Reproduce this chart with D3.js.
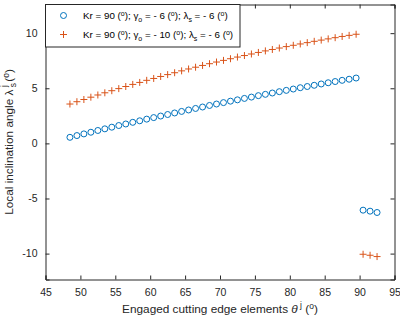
<!DOCTYPE html>
<html><head><meta charset="utf-8">
<script src="https://cdn.jsdelivr.net/npm/d3@7/dist/d3.min.js"></script>
<style>body{margin:0;background:#fff}svg{display:block;font-family:"Liberation Sans",Arial,sans-serif}</style>
</head><body>
<svg id="c" width="400" height="320"></svg>
<script>
const theta = [48.5,49.5,50.5,51.5,52.5,53.5,54.5,55.5,56.5,57.5,58.5,59.5,60.5,61.5,62.5,63.5,64.5,65.5,66.5,67.5,68.5,69.5,70.5,71.5,72.5,73.5,74.5,75.5,76.5,77.5,78.5,79.5,80.5,81.5,82.5,83.5,84.5,85.5,86.5,87.5,88.5,89.5,90.5,91.5,92.5];
const seriesA = [0.55,0.71,0.86,1.01,1.17,1.32,1.47,1.62,1.76,1.91,2.05,2.20,2.34,2.48,2.62,2.76,2.90,3.03,3.17,3.30,3.44,3.57,3.70,3.83,3.95,4.08,4.20,4.33,4.45,4.57,4.69,4.81,4.93,5.05,5.16,5.27,5.39,5.50,5.61,5.72,5.82,5.93,-6.06,-6.15,-6.27];
const seriesB = [3.57,3.78,3.98,4.19,4.39,4.59,4.78,4.97,5.16,5.35,5.53,5.72,5.89,6.07,6.24,6.41,6.58,6.75,6.91,7.07,7.23,7.38,7.53,7.68,7.83,7.97,8.11,8.25,8.39,8.52,8.65,8.78,8.90,9.02,9.14,9.26,9.37,9.48,9.59,9.70,9.80,9.90,-10.06,-10.15,-10.27];
const xTicks = [45,50,55,60,65,70,75,80,85,90,95];
const yTicks = [-10,-5,0,5,10];
const xDomain = [45,95];
const yDomain = [-12.35,12.6];

const svg = d3.select("#c");
const L=45.5, R=394.5, T=4.5, B=279.5;
const x = d3.scaleLinear().domain(xDomain).range([L,R]);
const y = d3.scaleLinear().domain(yDomain).range([B,T]);
const ink="#262626", blue="#0072BD", orange="#D95319";

const fs = 10.5;
// axes
const ax = svg.append("g").attr("transform",`translate(0,${B})`).call(d3.axisBottom(x).tickValues(xTicks).tickSize(-4).tickPadding(9));
const axT = svg.append("g").attr("transform",`translate(0,${T})`).call(d3.axisTop(x).tickValues(xTicks).tickSize(-4).tickFormat(""));
const ay = svg.append("g").attr("transform",`translate(${L},0)`).call(d3.axisLeft(y).tickValues(yTicks).tickSize(-4).tickPadding(8));
const ayR = svg.append("g").attr("transform",`translate(${R},0)`).call(d3.axisRight(y).tickValues(yTicks).tickSize(-4).tickFormat(""));
[ax,axT,ay,ayR].forEach(g=>{
  g.select(".domain").attr("stroke",ink).attr("stroke-width",1);
  g.selectAll(".tick line").attr("stroke",ink);
  g.selectAll("text").attr("fill",ink).attr("font-size",fs).attr("font-family","Liberation Sans, Arial, sans-serif");
});
ay.selectAll("text").text(d=>d);

// data
const pts = theta.map((t,i)=>({t,a:seriesA[i],b:seriesB[i]}));
svg.append("g").selectAll("circle").data(pts).join("circle")
  .attr("cx",d=>x(d.t)).attr("cy",d=>y(d.a)).attr("r",3)
  .attr("fill","none").attr("stroke",blue).attr("stroke-width",1);
const ps = 3.5;
svg.append("g").selectAll("path").data(pts).join("path")
  .attr("d",d=>`M${x(d.t)-ps},${y(d.b)}h${2*ps}M${x(d.t)},${y(d.b)-ps}v${2*ps}`)
  .attr("stroke",orange).attr("stroke-width",1).attr("fill","none");

// legend
const lg = svg.append("g");
lg.append("rect").attr("x",L).attr("y",T).attr("width",194.5).attr("height",42.5)
  .attr("fill","#fff").attr("stroke",ink).attr("stroke-width",1);
lg.append("circle").attr("cx",63.5).attr("cy",15.5).attr("r",3).attr("fill","none").attr("stroke",blue);
lg.append("path").attr("d","M60,34.5h7M63.5,31v7").attr("stroke",orange).attr("fill","none");
function legText(yy, g){
  const t = lg.append("text").attr("x",83).attr("y",yy).attr("font-size",9.8).attr("fill","#000");
  t.append("tspan").text("Kr = 90 (");
  t.append("tspan").text("o").attr("font-size",7).attr("dy",-3.5);
  t.append("tspan").text("); γ").attr("dy",3.5);
  t.append("tspan").text("o").attr("font-size",7).attr("dy",2.5);
  t.append("tspan").text(` = - ${g} (`).attr("dy",-2.5);
  t.append("tspan").text("o").attr("font-size",7).attr("dy",-3.5);
  t.append("tspan").text("); λ").attr("dy",3.5);
  t.append("tspan").text("s").attr("font-size",7).attr("dy",2.5);
  t.append("tspan").text(" = - 6 (").attr("dy",-2.5);
  t.append("tspan").text("o").attr("font-size",7).attr("dy",-3.5);
  t.append("tspan").text(")").attr("dy",3.5);
}
legText(19,"6");
legText(38,"10");

// x label
const xl = svg.append("text").attr("x",(L+R)/2).attr("y",313).attr("text-anchor","middle").attr("font-size",11.8).attr("fill",ink);
xl.append("tspan").text("Engaged cutting edge elements ");
xl.append("tspan").text("θ").attr("font-style","italic");
xl.append("tspan").text(" j").attr("font-size",8.5).attr("dy",-5);
xl.append("tspan").text(" (").attr("dy",5);
xl.append("tspan").text("o").attr("font-size",8.5).attr("dy",-4);
xl.append("tspan").text(")").attr("dy",4);

// y label
const yl = svg.append("text").attr("transform",`translate(13,${(T+B)/2}) rotate(-90)`).attr("text-anchor","middle").attr("font-size",11.8).attr("fill",ink);
yl.append("tspan").text("Local inclination angle λ");
yl.append("tspan").text(" s").attr("font-size",8.5).attr("dy",3);
yl.append("tspan").text("j").attr("font-size",8.5).attr("dx",-4).attr("dy",-9);
yl.append("tspan").text(" (").attr("dy",6);
yl.append("tspan").text("o").attr("font-size",8.5).attr("dy",-4);
yl.append("tspan").text(")").attr("dy",4);
</script>
</body></html>
